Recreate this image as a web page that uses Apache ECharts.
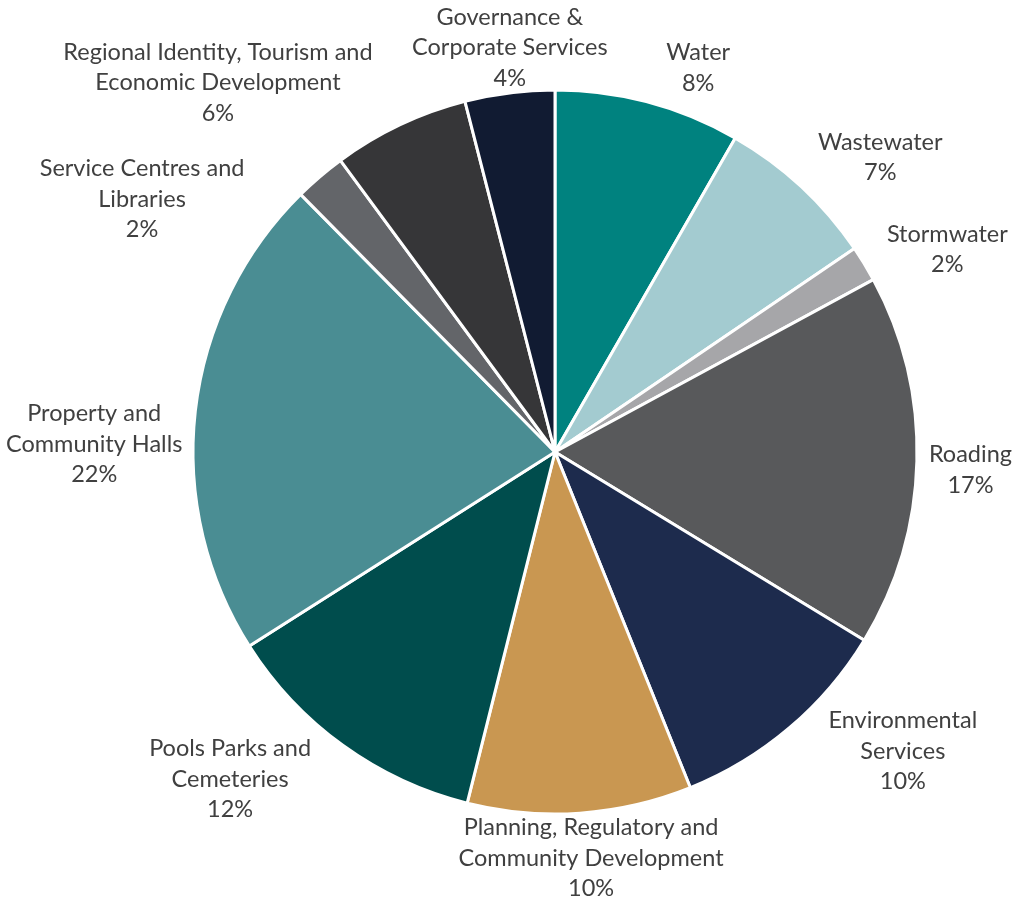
<!DOCTYPE html>
<html>
<head>
<meta charset="utf-8">
<script src="https://cdn.jsdelivr.net/npm/echarts@6/dist/echarts.min.js"></script>
<style>
  html, body { margin: 0; padding: 0; background: #ffffff; }
  #chart { width: 1018px; height: 901px; }
</style>
</head>
<body>
<div id="chart"></div>
<script>
// Budget share by activity group, clockwise from 12 o'clock
const categories = [
  'Water',
  'Wastewater',
  'Stormwater',
  'Roading',
  'Environmental\nServices',
  'Planning, Regulatory and\nCommunity Development',
  'Pools Parks and\nCemeteries',
  'Property and\nCommunity Halls',
  'Service Centres and\nLibraries',
  'Regional Identity, Tourism and\nEconomic Development',
  'Governance &\nCorporate Services'
];
const shares = [8.3, 7.2, 1.6, 16.6, 10.2, 10.0, 12.1, 21.6, 2.3, 6.1, 4.0];
const sliceColors = [
  '#00827F', '#A3CBD0', '#A6A6A9', '#58595B', '#1D2B4D', '#C99751',
  '#004D4D', '#4A8D93', '#636569', '#363638', '#111B32'
];
// Label direction tweaks (degrees, clockwise) so the crowded labels sit clear of each other
const labelTurn = [5.5, 5, 4, 1, -9, -1, 9, -5.5, -18, -17, 1];

// Geometry and text settings
const WIDTH = 1018, HEIGHT = 901;
const CX = 555, CY = 452, RADIUS = 362;
const FONT_SIZE = 23.5, FONT_FAMILY = 'Lato', LINE_H = 30.5;
const GAP = 12, PAD_X = 2, TRIM_Y = 8, EDGE_TOP = 6, EDGE_BOTTOM = 1, EDGE_SIDE = 4, STEP = 0.25;

const total = shares.reduce((a, b) => a + b, 0);
const labelText = i => categories[i] + '\n' + Math.round(shares[i] / total * 100) + '%';

// Place each label box just outside the pie along its slice's bisector (plus tweak),
// keep it inside the canvas, then spread neighbours apart if any still overlap.
function computeLabelBoxes() {
  const ctx = document.createElement('canvas').getContext('2d');
  ctx.font = FONT_SIZE + 'px ' + FONT_FAMILY;
  let acc = 0;
  const items = shares.map((v, i) => {
    const a0 = acc / total * 360; acc += v;
    const a1 = acc / total * 360;
    const lines = labelText(i).split('\n');
    const w = Math.max(...lines.map(l => ctx.measureText(l).width)) + 2 * PAD_X;
    return { ang: (a0 + a1) / 2 + labelTurn[i], w, h: lines.length * LINE_H - TRIM_Y };
  });
  const place = it => {
    const t = it.ang * Math.PI / 180, ux = Math.sin(t), uy = -Math.cos(t);
    let lo = 0, hi = 1500;
    for (let k = 0; k < 50; k++) {
      const s = (lo + hi) / 2, x = CX + s * ux, y = CY + s * uy;
      const dx = Math.max(Math.abs(x - CX) - it.w / 2, 0);
      const dy = Math.max(Math.abs(y - CY) - it.h / 2, 0);
      if (Math.hypot(dx, dy) < RADIUS + GAP) lo = s; else hi = s;
    }
    it.x = Math.min(Math.max(CX + hi * ux, it.w / 2 + EDGE_SIDE), WIDTH - it.w / 2 - EDGE_SIDE);
    it.y = Math.min(Math.max(CY + hi * uy, it.h / 2 + EDGE_TOP), HEIGHT - it.h / 2 - EDGE_BOTTOM);
  };
  items.forEach(place);
  const overlap = (a, b) =>
    Math.abs(a.x - b.x) < (a.w + b.w) / 2 && Math.abs(a.y - b.y) < (a.h + b.h) / 2;
  for (let iter = 0; iter < 3000; iter++) {
    let moved = false;
    for (let i = 0; i < items.length; i++) {
      const j = (i + 1) % items.length;
      if (overlap(items[i], items[j])) {
        moved = true;
        items[i].ang -= STEP; place(items[i]);
        items[j].ang += STEP; place(items[j]);
      }
    }
    if (!moved) break;
  }
  return items;
}

let labelBoxes = null;

const chart = echarts.init(document.getElementById('chart'), null, { renderer: 'canvas' });
chart.setOption({
  backgroundColor: '#ffffff',
  animation: false,
  series: [{
    type: 'pie',
    center: [CX, CY],
    radius: RADIUS,
    startAngle: 90,
    clockwise: true,
    avoidLabelOverlap: false,
    silent: true,
    data: categories.map((name, i) => ({
      name,
      value: shares[i],
      itemStyle: { color: sliceColors[i] }
    })),
    itemStyle: { borderColor: '#ffffff', borderWidth: 3 },
    label: {
      show: true,
      position: 'outside',
      overflow: 'none',
      color: '#404040',
      fontFamily: FONT_FAMILY,
      fontSize: FONT_SIZE,
      lineHeight: LINE_H,
      formatter: p => p.name + '\n' + Math.round(p.percent) + '%'
    },
    labelLine: { show: false },
    labelLayout: params => {
      if (!labelBoxes) labelBoxes = computeLabelBoxes();
      const b = labelBoxes[params.dataIndex];
      return { x: b.x, y: b.y, align: 'center', verticalAlign: 'middle' };
    },
    emphasis: { disabled: true }
  }]
});
</script>
</body>
</html>
